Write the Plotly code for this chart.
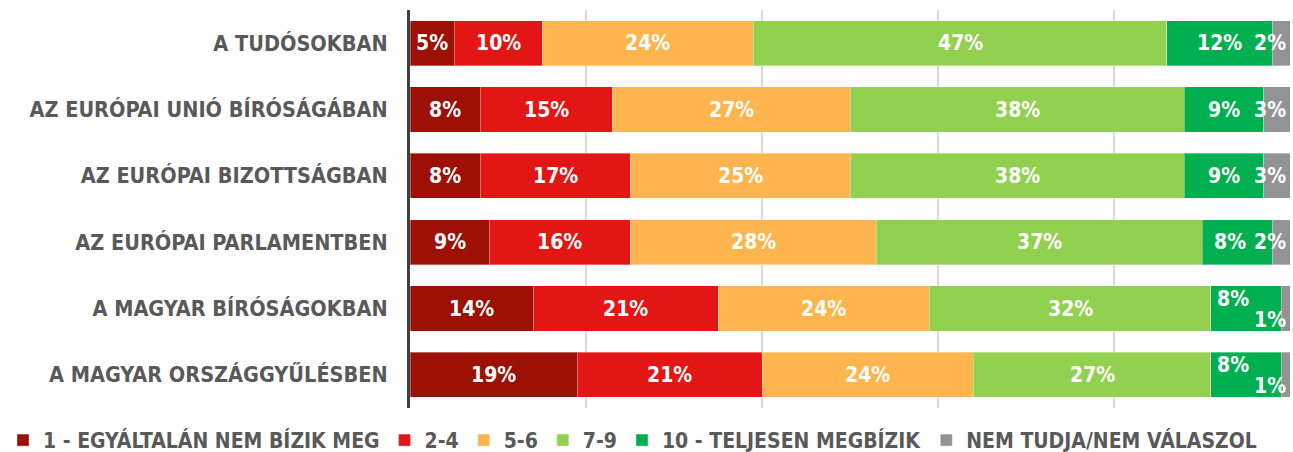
import plotly.graph_objects as go

categories = [
    "A TUDÓSOKBAN",
    "AZ EURÓPAI UNIÓ BÍRÓSÁGÁBAN",
    "AZ EURÓPAI BIZOTTSÁGBAN",
    "AZ EURÓPAI PARLAMENTBEN",
    "A MAGYAR BÍRÓSÁGOKBAN",
    "A MAGYAR ORSZÁGGYŰLÉSBEN",
]
series_names = [
    "1 - EGYÁLTALÁN NEM BÍZIK MEG",
    "2-4",
    "5-6",
    "7-9",
    "10 - TELJESEN MEGBÍZIK",
    "NEM TUDJA/NEM VÁLASZOL",
]
v_1 = [5, 8, 8, 9, 14, 19]
v_2_4 = [10, 15, 17, 16, 21, 21]
v_5_6 = [24, 27, 25, 28, 24, 24]
v_7_9 = [47, 38, 38, 37, 32, 27]
v_10 = [12, 9, 9, 8, 8, 8]
v_na = [2, 3, 3, 2, 1, 1]
series_values = [v_1, v_2_4, v_5_6, v_7_9, v_10, v_na]

colors = ["#9C1006", "#E41515", "#FFB54D", "#92D050", "#00B050", "#939393"]

FONT = "Liberation Sans Narrow, DejaVu Sans Condensed, Arial Narrow, sans-serif"

fig = go.Figure()
for name, vals, col in zip(series_names, series_values, colors):
    fig.add_trace(go.Bar(
        y=categories, x=vals, name=name, orientation="h",
        marker=dict(color=col, line=dict(color="rgba(255,255,255,0.35)", width=1)),
        textposition="none", hoverinfo="x+name",
    ))

# value labels via annotations in data coordinates
annotations = []
total = 100
for ci, cat in enumerate(categories):
    cum = 0
    for si, vals in enumerate(series_values):
        v = vals[ci]
        center = cum + v / 2
        cum += v
        x, xanchor, xshift, yshift = center, "center", 0, 0
        crowded = v_na[ci] <= 1
        if si == len(series_values) - 1:
            x, xanchor, xshift = total, "right", -2
            if crowded:
                yshift = -11
        elif si == len(series_values) - 2:
            if crowded:
                xshift, yshift = -13, 10
            elif v <= 8:
                xshift = -7
        annotations.append(dict(
            x=x, y=cat, xref="x", yref="y", text=f"{v}%", showarrow=False,
            xanchor=xanchor, xshift=xshift, yshift=yshift,
            font=dict(family=FONT, size=21, color="white", weight="bold"),
        ))

fig.update_layout(
    barmode="stack",
    bargap=0.32,
    width=1293, height=452,
    margin=dict(l=410, r=3, t=10, b=44, autoexpand=False),
    plot_bgcolor="white", paper_bgcolor="white",
    font=dict(family=FONT, color="#595959"),
    annotations=annotations,
    showlegend=True,
    legend=dict(
        orientation="h", xref="paper", yref="paper",
        x=-0.4625, y=-0.03, xanchor="left", yanchor="top",
        font=dict(family=FONT, size=21, color="#595959", weight="bold"),
        traceorder="normal", itemwidth=30,
    ),
    xaxis=dict(
        range=[0, 100], dtick=20, showgrid=True, gridcolor="#D9D9D9", gridwidth=2,
        showticklabels=False, zeroline=False, showline=False, fixedrange=True,
    ),
    yaxis=dict(
        autorange="reversed", showline=True, linecolor="#404040", linewidth=3,
        ticks="", ticklabelstandoff=15,
        tickfont=dict(family=FONT, size=21.5, color="#595959", weight="bold"),
    ),
)

fig.write_html(
    "out.html",
    config={"displayModeBar": False},
    post_script="document.body.style.margin='0';document.body.style.overflow='hidden';",
)
